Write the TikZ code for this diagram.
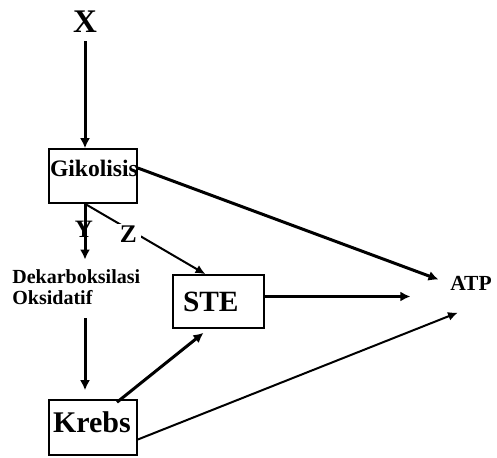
\documentclass[tikz,border=0pt]{standalone}
\usepackage{fontspec}
\setmainfont{Liberation Serif}
\usetikzlibrary{arrows.meta}
\tikzset{
  box/.style={draw, line width=0.8pt, align=left},
  txt/.style={inner sep=1pt, font=\bfseries},
  arr/.style={-{Latex[length=5pt,width=5pt]}, line width=1.5pt},
  arrthin/.style={-{Latex[length=5pt,width=4.5pt]}, line width=1pt},
}
\begin{document}
\begin{tikzpicture}[x=0.5pt,y=-0.5pt]
\useasboundingbox (0,0) rectangle (497,457);
% boxes:
\node[box, text width=43pt, inner xsep=0.5pt, minimum height=27pt, text height=8pt, text depth=8pt,
  font=\bfseries\fontsize{11.8}{13}\selectfont] (gik) at (93,176) {Gikolisis};
\node[box, text width=35.5pt, inner xsep=5pt, minimum height=26.5pt,
  font=\bfseries\fontsize{14.7}{16}\selectfont] (ste) at (218.5,301.5) {STE};
\node[box, text width=40pt, inner xsep=2pt, minimum height=27.5pt, text depth=5.5pt,
  font=\bfseries\fontsize{15}{16}\selectfont] (krebs) at (93,427.5) {Krebs};
% labels:
\node[txt, font=\bfseries\fontsize{16.5}{18}\selectfont] (x) at (85,22) {X};
\node[txt, anchor=west, align=left, font=\bfseries\fontsize{10}{10.5}\selectfont] (dek) at (10,287.5) {Dekarboksilasi\\Oksidatif};
\node[txt, font=\bfseries\fontsize{10.75}{12}\selectfont] (atp) at (471,283) {ATP};
% arrows:
\draw[arr, shorten <=3pt] (x.south) -- (x |- gik.north);
\draw[arr, shorten >=4pt] (x |- gik.south) -- (x |- dek.north)
  node[txt, pos=0.4, xshift=-0.5pt, font=\bfseries\fontsize{12.5}{14}\selectfont] (y) {Y};
\draw[arrthin] (x |- gik.south) -- ([xshift=-6.5pt]ste.north)
  node[txt, pos=0.36, yshift=-2.5pt, inner xsep=2pt, fill=white, font=\bfseries\fontsize{12.7}{14}\selectfont] (z) {Z};
\draw[arr, shorten <=5.5pt, shorten >=4.5pt] (x |- dek.south) -- (x |- krebs.north);
\draw[arr, shorten >=5pt] ([yshift=4pt]gik.east) -- (atp.west);
\draw[arr, shorten >=18.75pt] ([yshift=2.5pt]ste.east) -- ([yshift=2.5pt]ste.east -| atp.west);
\draw[arr] ([xshift=12pt,yshift=-1.5pt]krebs.north) -- ([xshift=-7.5pt,yshift=-2pt]ste.south);
\draw[arrthin] ([yshift=-6pt]krebs.east) -- ([xshift=-6.5pt,yshift=-10pt]atp.south);
\end{tikzpicture}
\end{document}
